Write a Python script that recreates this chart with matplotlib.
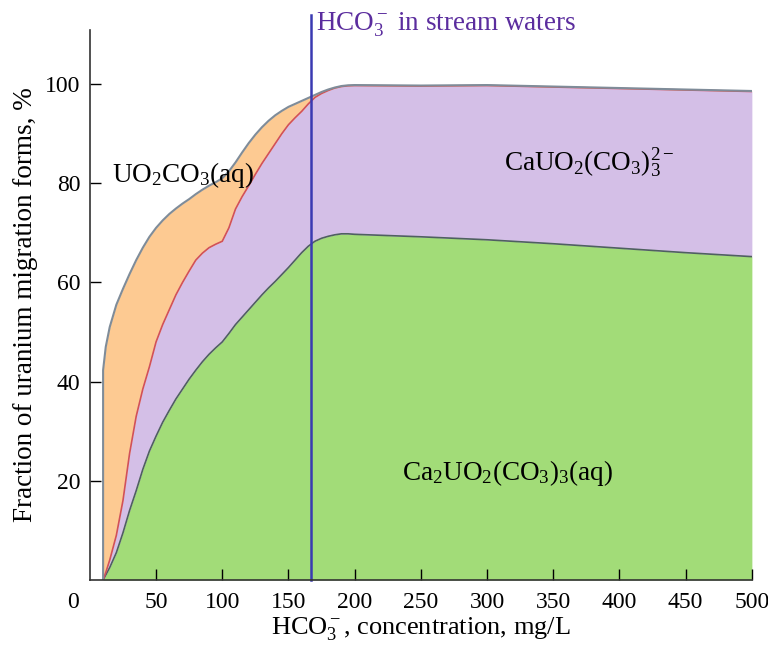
import matplotlib
matplotlib.use("Agg")
import matplotlib.pyplot as plt

plt.rcParams['font.family'] = ['Liberation Serif', 'DejaVu Serif']
plt.rcParams['mathtext.fontset'] = 'custom'
plt.rcParams['mathtext.rm'] = 'Liberation Serif'
plt.rcParams['mathtext.it'] = 'Liberation Serif:italic'
plt.rcParams['mathtext.bf'] = 'Liberation Serif:bold'

# HCO3- concentration, mg/L
hco3 = [10, 12, 15, 20, 25, 30, 35, 40, 45, 50, 55, 60, 65, 70, 75, 80, 85, 90, 95,
        100, 105, 110, 115, 120, 125, 130, 135, 140, 145, 150, 155, 160, 165, 170,
        175, 180, 185, 190, 195, 200, 250, 300, 350, 400, 450, 500]

# cumulative boundaries of the stacked areas, %
ca2_top = [0, 1, 2.5, 5.5, 9.5, 14, 18, 22.3, 26, 29, 31.8, 34.2, 36.5, 38.5, 40.5,
           42.3, 44, 45.5, 46.8, 48, 49.7, 51.5, 53, 54.5, 56, 57.5, 58.9, 60.2,
           61.6, 63, 64.5, 66, 67.3, 68.3, 68.9, 69.3, 69.6, 69.8, 69.8, 69.7,
           69.2, 68.6, 67.8, 66.9, 66, 65.2]
cauo2_top = [0, 1.5, 4, 9, 16, 25.5, 33, 38.5, 43, 48, 51.5, 54.5, 57.5, 60, 62.3,
             64.5, 65.9, 67, 67.7, 68.3, 71, 74.8, 77.3, 79.5, 81.8, 84, 86, 88, 90,
             91.8, 93.2, 94.5, 96, 97.3, 98.1, 98.7, 99.2, 99.5, 99.65, 99.7,
             99.6, 99.7, 99.4, 99.1, 98.8, 98.5]
total_top = [42.3, 47, 51, 55.5, 58.7, 61.7, 64.5, 67, 69.2, 71, 72.5, 73.8, 74.9,
             75.9, 76.8, 77.8, 78.7, 79.5, 80.2, 81, 82.4, 84.2, 86.2, 88.1, 89.8,
             91.3, 92.6, 93.7, 94.6, 95.4, 96, 96.6, 97.2, 97.8, 98.4, 98.9, 99.3,
             99.6, 99.75, 99.8, 99.7, 99.8, 99.5, 99.2, 98.9, 98.6]

stream_hco3 = 167

fig = plt.figure(figsize=(7.68, 6.45), dpi=100)
ax = fig.add_axes([0.117, 0.1008, 0.862, 0.8527])

ax.fill_between(hco3, 0, ca2_top, color='#a2dc78', lw=0)
ax.fill_between(hco3, ca2_top, cauo2_top, color='#d4bfe7', lw=0)
ax.fill_between(hco3, cauo2_top, total_top, color='#fdca92', lw=0)

ax.plot(hco3, ca2_top, color='#4f6060', lw=1.2)
ax.plot(hco3, cauo2_top, color='#d0505a', lw=1.2)
ax.plot([hco3[0]] + hco3, [0] + total_top, color='#7f8c99', lw=1.5)

ax.plot([stream_hco3, stream_hco3], [0, 114], color='#3a3ab2', lw=1.8, clip_on=False)
ax.text(stream_hco3 + 4, 112, r'HCO$_3^-$ in stream waters', color='#5b2d9e',
        fontsize=19.5, ha='left', va='center', clip_on=False)

ax.text(16.5, 81.7, r'UO$_2$CO$_3$(aq)', fontsize=19.5, ha='left', va='center')
ax.text(313, 84, r'CaUO$_2$(CO$_3$)$_3^{2-}$', fontsize=19.5, ha='left', va='center')
ax.text(235.5, 21.6, r'Ca$_2$UO$_2$(CO$_3$)$_3$(aq)', fontsize=19.5, ha='left', va='center')

ax.set_xlim(0, 500)
ax.set_ylim(0, 110.9)
ax.set_xticks(range(50, 501, 50))
ax.set_yticks(range(20, 101, 20))
ax.tick_params(axis='x', direction='in', length=8, width=1, labelsize=17, pad=9)
ax.tick_params(axis='y', direction='in', length=8, width=1, labelsize=17, pad=7)
for s in ['top', 'right']:
    ax.spines[s].set_visible(False)
for s in ['left', 'bottom']:
    ax.spines[s].set_color('#333333')
    ax.spines[s].set_linewidth(1.2)

fig.text(73 / 768, 1 - 603 / 645, '0', fontsize=17, ha='center', va='center')

ax.set_xlabel(r'HCO$_3^-$, concentration, mg/L', fontsize=19)
ax.set_ylabel('Fraction of uranium migration forms, %', fontsize=19.5)
ax.xaxis.set_label_coords(0.5, -0.064)
ax.yaxis.set_label_coords(-0.078, 0.5)

fig.savefig('out.png', dpi=100)
